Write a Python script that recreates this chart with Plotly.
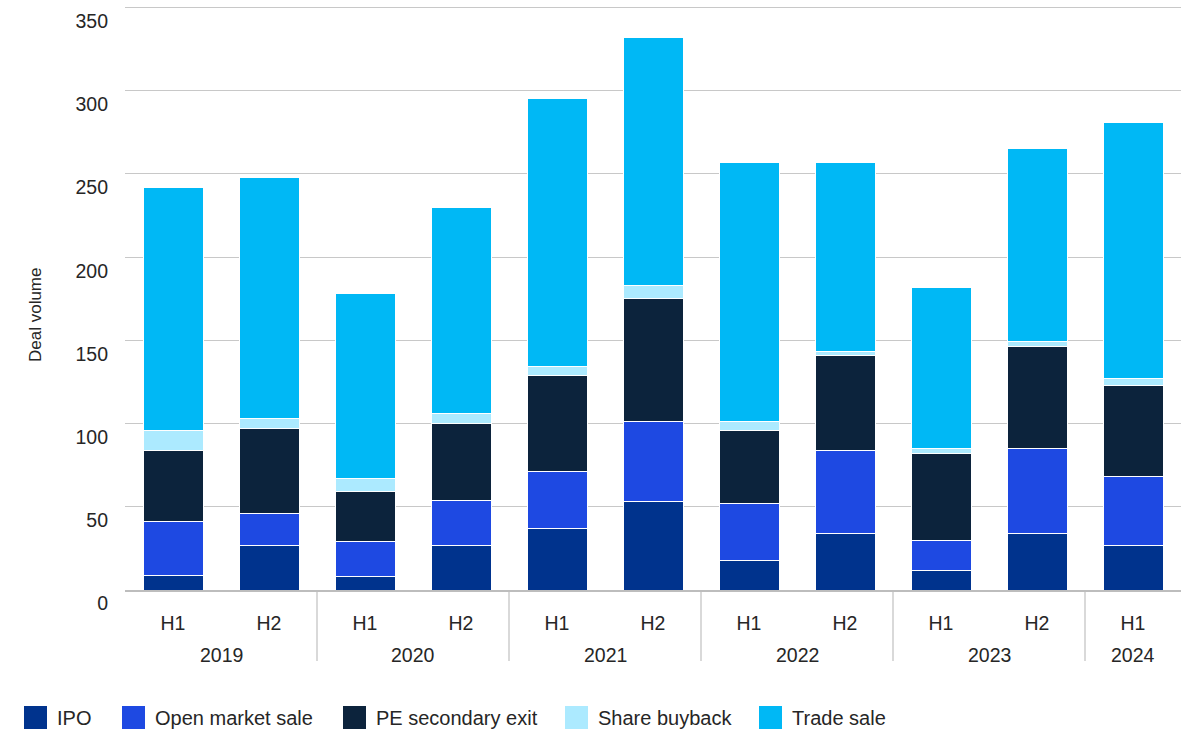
import plotly.graph_objects as go

# ---- data ----
years = ["2019", "2019", "2020", "2020", "2021", "2021", "2022", "2022", "2023", "2023", "2024"]
halves = ["H1", "H2", "H1", "H2", "H1", "H2", "H1", "H2", "H1", "H2", "H1"]

ipo = [9, 27, 8, 27, 37, 53, 18, 34, 12, 34, 27]
open_market_sale = [32, 19, 21, 27, 34, 48, 34, 50, 18, 51, 41]
pe_secondary_exit = [43, 51, 30, 46, 58, 74, 44, 57, 52, 61, 55]
share_buyback = [12, 6, 8, 6, 5, 8, 5, 2, 3, 3, 4]
trade_sale = [146, 145, 111, 124, 161, 149, 156, 114, 97, 116, 154]

series_names = ["IPO", "Open market sale", "PE secondary exit", "Share buyback", "Trade sale"]
series_values = [ipo, open_market_sale, pe_secondary_exit, share_buyback, trade_sale]
colors = ["#00338D", "#1E49E2", "#0C233C", "#ACEAFF", "#00B8F5"]

y_ticks = [0, 50, 100, 150, 200, 250, 300, 350]

FONT = "Liberation Sans, Arial, sans-serif"
TEXT = "#262626"

W, H = 1182, 730
ML, MR, MT, MB = 125, 1, 4, 140
PW, PH = W - ML - MR, H - MT - MB


def px2paper_x(px):
    return (px - ML) / PW


def px2paper_y(py):
    return (H - MB - py) / PH


periods = [f"{y} {h}" for y, h in zip(years, halves)]

fig = go.Figure()
for name, vals, col in zip(series_names, series_values, colors):
    fig.add_trace(go.Bar(
        x=periods, y=vals, name=name,
        marker=dict(color=col, line=dict(color="white", width=1)),
        showlegend=False,
    ))

shapes = []
annotations = []

# year group labels and dividers (derived from the category lists)
unique_years = list(dict.fromkeys(years))
for yr in unique_years:
    idx = [i for i, y in enumerate(years) if y == yr]
    annotations.append(dict(
        xref="x", yref="paper", x=sum(idx) / len(idx), y=px2paper_y(655),
        xanchor="center", yanchor="middle", text=yr, showarrow=False,
        font=dict(family=FONT, size=19.5, color=TEXT),
    ))
    if idx[0] > 0:
        shapes.append(dict(
            type="line", xref="x", yref="paper",
            x0=idx[0] - 0.5, x1=idx[0] - 0.5, y0=0, y1=px2paper_y(661),
            line=dict(color="#cccccc", width=1.5), layer="below",
        ))

# manual legend (large square swatches like the reference)
legend_x = [24, 122, 343, 565, 759]
for lx, name, col in zip(legend_x, series_names, colors):
    shapes.append(dict(
        type="rect", xref="paper", yref="paper",
        x0=px2paper_x(lx), x1=px2paper_x(lx + 23),
        y0=px2paper_y(729), y1=px2paper_y(706),
        fillcolor=col, line=dict(width=0),
    ))
    annotations.append(dict(
        xref="paper", yref="paper", x=px2paper_x(lx + 31), y=px2paper_y(717.5),
        xanchor="left", yanchor="middle", text=name, showarrow=False,
        font=dict(family=FONT, size=20, color=TEXT),
    ))

annotations.append(dict(
    xref="paper", yref="paper", x=px2paper_x(35), y=px2paper_y(315),
    xanchor="center", yanchor="middle", text="Deal volume", textangle=-90,
    showarrow=False, font=dict(family=FONT, size=17, color=TEXT),
))

fig.update_layout(
    width=W, height=H,
    margin=dict(l=ML, r=MR, t=MT, b=MB, autoexpand=False),
    barmode="stack", bargap=0.375,
    plot_bgcolor="white", paper_bgcolor="white",
    font=dict(family=FONT, size=19.5, color=TEXT),
    shapes=shapes, annotations=annotations,
    showlegend=False,
)
fig.update_yaxes(
    range=[0, 352], tickvals=y_ticks, ticktext=[str(v) for v in y_ticks],
    showgrid=True, gridcolor="#c8c8c8", gridwidth=1.2,
    zeroline=False, showline=False, ticks="",
    ticklabelposition="outside bottom", ticklabelstandoff=16,
    tickfont=dict(family=FONT, size=19.5, color=TEXT),
)
fig.update_xaxes(
    type="category", range=[-0.5, len(periods) - 0.5],
    tickvals=periods, ticktext=halves,
    showline=True, linecolor="#bdbdbd", linewidth=1.5,
    ticks="", ticklabelstandoff=15,
    tickfont=dict(family=FONT, size=19.5, color=TEXT),
)

fig.write_html(
    "out.html",
    config={"displayModeBar": False},
    post_script="document.body.style.margin='0';",
)
